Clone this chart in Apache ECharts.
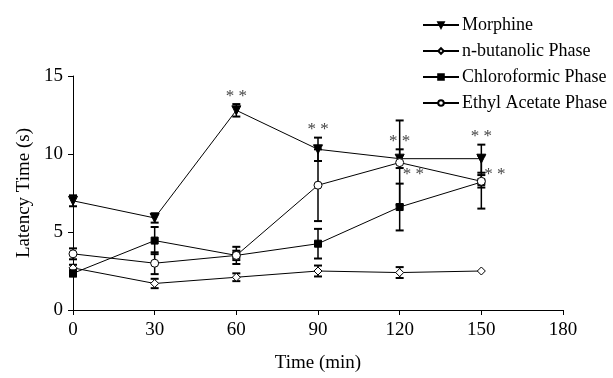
<!DOCTYPE html>
<html>
<head>
<meta charset="utf-8">
<script src="https://cdn.jsdelivr.net/npm/echarts@6/dist/echarts.min.js"></script>
<style>
  html, body { margin: 0; padding: 0; background: #ffffff; }
  #chart { width: 613px; height: 378px; }
</style>
</head>
<body>
<div id="chart"></div>
<script>
  // 数据
  var times = [0, 30, 60, 90, 120, 150];

  var morphine = [7.0, 5.9, 12.8, 10.3, 9.7, 9.7];
  var morphineErr = [0.35, 0.3, 0.4, 0.75, 0.6, 0.9];
  var morphineSig = ['', '', '* *', '* *', '* *', '* *'];

  var butanolic = [2.7, 1.7, 2.1, 2.5, 2.4, 2.5];
  var butanolicErr = [0.2, 0.3, 0.25, 0.35, 0.35, 0];

  var chloro = [2.35, 4.45, 3.5, 4.25, 6.6, 8.2];
  var chloroErr = [0.2, 0.87, 0.55, 0.95, 1.5, 1.7];
  var chloroSig = ['', '', '', '', '', '* *'];

  var ethyl = [3.6, 3.0, 3.5, 8.0, 9.45, 8.25];
  var ethylErr = [0.35, 0.7, 0.3, 2.3, 2.7, 0.4];
  var ethylSig = ['', '', '', '', '* *', ''];

  var yTicks = [0, 5, 10, 15];
  var xTicks = [0, 30, 60, 90, 120, 150, 180];

  var font = 'Liberation Serif';

  function pairs(vals) {
    return times.map(function (t, i) { return [t, vals[i]]; });
  }

  // 误差线 + 星号 (dy: 右侧星号相对数据点的偏移)
  function errSeries(vals, errs, sig, sigPos, dy) {
    var data = times.map(function (t, i) {
      return [t, vals[i] - errs[i], vals[i] + errs[i], vals[i], (sig && sig[i]) || ''];
    });
    return {
      type: 'custom',
      silent: true,
      z: 1,
      data: data,
      renderItem: function (params, api) {
        var x = api.value(0);
        var lo = api.coord([x, api.value(1)]);
        var hi = api.coord([x, api.value(2)]);
        var pt = api.coord([x, api.value(3)]);
        var w = 4;
        var children = [];
        if (hi[1] !== lo[1]) {
          children.push({ type: 'line', shape: { x1: lo[0], y1: lo[1], x2: hi[0], y2: hi[1] }, style: { stroke: '#000', lineWidth: 1.5 } });
          children.push({ type: 'line', shape: { x1: lo[0] - w, y1: lo[1], x2: lo[0] + w, y2: lo[1] }, style: { stroke: '#000', lineWidth: 2 } });
          children.push({ type: 'line', shape: { x1: hi[0] - w, y1: hi[1], x2: hi[0] + w, y2: hi[1] }, style: { stroke: '#000', lineWidth: 2 } });
        }
        var s = api.value(4);
        if (s) {
          var tx, ty, align;
          if (sigPos === 'top') {
            tx = hi[0]; ty = hi[1] - 8; align = 'center';
          } else {
            tx = pt[0] + 3; ty = pt[1] + dy; align = 'left';
          }
          children.push({
            type: 'text',
            style: {
              x: tx, y: ty, text: s, align: align, verticalAlign: 'middle',
              fill: '#444', font: '17px ' + font
            }
          });
        }
        return { type: 'group', children: children };
      }
    };
  }

  function lineSeries(name, vals, symbol, size, filled) {
    return {
      name: name,
      type: 'line',
      data: pairs(vals),
      symbol: symbol,
      symbolSize: size,
      symbolRotate: symbol === 'triangle' ? 180 : 0,
      z: 3,
      lineStyle: { color: '#000', width: 1 },
      itemStyle: {
        color: filled ? '#000' : '#fff',
        borderColor: '#000',
        borderWidth: 1
      }
    };
  }

  var myChart = echarts.init(document.getElementById('chart'));

  myChart.setOption({
    animation: false,
    backgroundColor: '#fff',
    textStyle: { fontFamily: font },
    grid: { left: 73, right: 50, top: 76, bottom: 65 },
    legend: {
      orient: 'vertical',
      left: 417,
      top: 11,
      itemGap: 8,
      itemWidth: 36,
      itemHeight: 7,
      textStyle: { fontFamily: font, fontSize: 18, color: '#000', padding: [0, 0, 0, -2] },
      data: ['Morphine', 'n-butanolic Phase', 'Chloroformic Phase', 'Ethyl Acetate Phase']
    },
    xAxis: {
      type: 'value',
      min: xTicks[0],
      max: xTicks[xTicks.length - 1],
      interval: 30,
      name: 'Time (min)',
      nameLocation: 'middle',
      nameGap: 44,
      nameTextStyle: { fontFamily: font, fontSize: 19, color: '#000' },
      axisLine: { lineStyle: { color: '#000', width: 1 } },
      axisTick: { length: 5, lineStyle: { color: '#000' } },
      axisLabel: { fontFamily: font, fontSize: 19, color: '#000', margin: 11 },
      splitLine: { show: false }
    },
    yAxis: {
      type: 'value',
      min: yTicks[0],
      max: yTicks[yTicks.length - 1],
      interval: 5,
      name: 'Latency Time (s)',
      nameLocation: 'middle',
      nameGap: 36,
      nameTextStyle: { fontFamily: font, fontSize: 19, color: '#000' },
      axisLine: { show: true, lineStyle: { color: '#000', width: 1 } },
      axisTick: { show: true, length: 5, lineStyle: { color: '#000' } },
      axisLabel: { fontFamily: font, fontSize: 19, color: '#000', margin: 10 },
      splitLine: { show: false }
    },
    series: [
      errSeries(morphine, morphineErr, morphineSig, 'top', 0),
      errSeries(butanolic, butanolicErr, null, '', 0),
      errSeries(chloro, chloroErr, chloroSig, 'right', -8),
      errSeries(ethyl, ethylErr, ethylSig, 'right', 12),
      lineSeries('Morphine', morphine, 'triangle', 9, true),
      lineSeries('n-butanolic Phase', butanolic, 'diamond', 8, false),
      lineSeries('Chloroformic Phase', chloro, 'rect', 7, true),
      lineSeries('Ethyl Acetate Phase', ethyl, 'circle', 8, false)
    ]
  });
</script>
</body>
</html>
